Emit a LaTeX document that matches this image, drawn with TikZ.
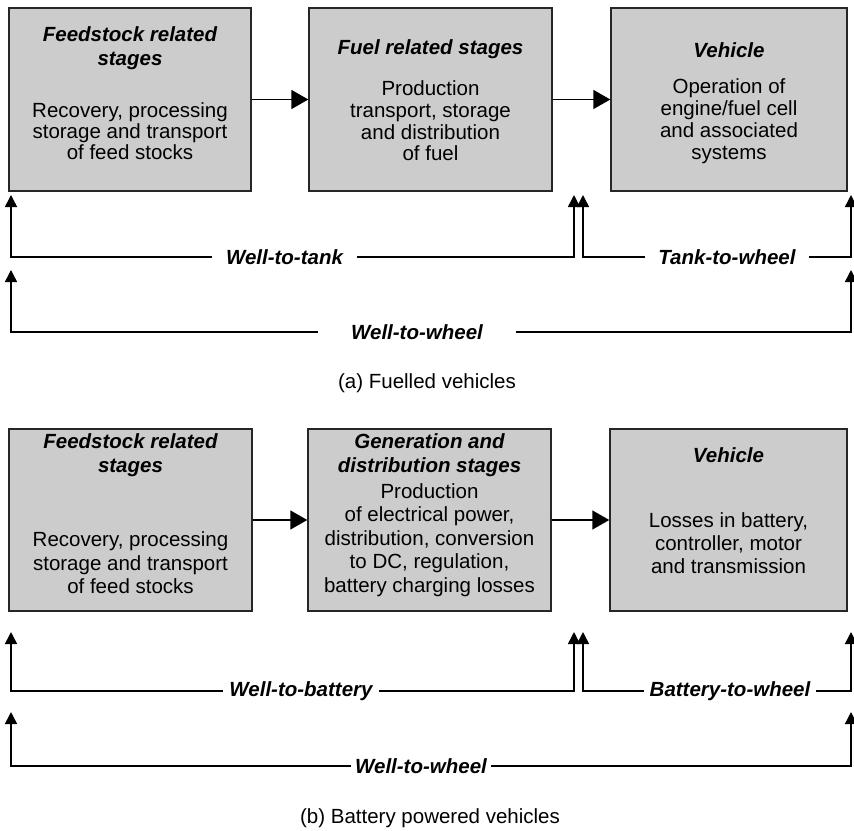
\documentclass[tikz,border=0pt]{standalone}
\usepackage{fontspec}
\setmainfont{Liberation Sans}
\usetikzlibrary{arrows.meta,shadows}
\definecolor{boxgray}{HTML}{CCCCCC}
\tikzset{
  stagebox/.style={draw=black!85, line width=1.4pt, fill=boxgray, inner sep=0pt, minimum height=#1,
    drop shadow={shadow xshift=1.2pt, shadow yshift=-1.2pt, opacity=0.45, fill=black!60}},
  stagebox/.default=183pt,
  ttl/.style={font=\fontsize{20.5}{24}\selectfont\bfseries\itshape, align=center, inner sep=0pt},
  bdy/.style={font=\fontsize{20.5}{#1}\selectfont, align=center, inner sep=0pt},
  bdy/.default=22,
  lbl/.style={font=\fontsize{20.5}{24}\selectfont\bfseries\itshape, inner ysep=0pt, inner xsep=#1},
  captext/.style={font=\fontsize{20.5}{24}\selectfont, inner sep=0pt},
  flowarrow/.style={line width=1.6pt, -{Triangle[length=17pt,width=19pt]}},
  spanarrow/.style={line width=1.5pt, -{Triangle[length=12pt,width=12pt]}},
}
\begin{document}
\begin{tikzpicture}[x=1pt,y=-1pt]
\useasboundingbox (0,0) rectangle (854,830);
% ---------- (a) ----------
\node[stagebox, minimum width=242pt] (a1) at (130,99.5) {};
\node[stagebox, minimum width=243pt] (a2) at (430.5,99.5) {};
\node[stagebox, minimum width=236pt] (a3) at (729,99.5) {};
\node[ttl] (a1t) at (130,48) {Feedstock related\\stages};
\node[bdy=21] (a1b) at (130,131) {Recovery, processing\\storage and transport\\of feed stocks};
\node[ttl] (a2t) at (430.5,49) {Fuel related stages};
\node[bdy=21.7] (a2b) at (430.5,121) {Production\\transport, storage\\and distribution\\of fuel};
\node[ttl] (a3t) at (729,50) {Vehicle};
\node[bdy=22] (a3b) at (729,121) {Operation of\\engine/fuel cell\\and associated\\systems};
\draw[flowarrow] (a1) -- (a2);
\draw[flowarrow] (a2) -- (a3);

\coordinate (pa1) at (11,195);
\coordinate (pa2) at (574,195);
\coordinate (pa3) at (583,195);
\coordinate (pa4) at (851,195);
\coordinate (pa5) at (11,270);
\coordinate (pa6) at (851,270);
\node[lbl=14pt] (wtt) at (284.5,257) {Well-to-tank};
\node[lbl=13.5pt] (ttw) at (727,257) {Tank-to-wheel};
\node[lbl=33pt] (wtwa) at (417,332) {Well-to-wheel};
\draw[spanarrow] (wtt.west) -| (pa1);
\draw[spanarrow] (wtt.east) -| (pa2);
\draw[spanarrow] (ttw.west) -| (pa3);
\draw[spanarrow] (ttw.east) -| (pa4);
\draw[spanarrow] (wtwa.west) -| (pa5);
\draw[spanarrow] (wtwa.east) -| (pa6);
\node[captext] (capa) at (427,383) {(a) Fuelled vehicles};

% ---------- (b) ----------
\node[stagebox=182pt, minimum width=243pt] (b1) at (130.5,520) {};
\node[stagebox=182pt, minimum width=243pt] (b2) at (429.5,520) {};
\node[stagebox=182pt, minimum width=237pt] (b3) at (728.5,520) {};
\node[ttl] (b1t) at (130.5,455) {Feedstock related\\stages};
\node[bdy=23.5] (b1b) at (130.5,563) {Recovery, processing\\storage and transport\\of feed stocks};
\node[ttl] (b2t) at (429.5,455) {Generation and\\distribution stages};
\node[bdy=23.5] (b2b) at (429.5,540) {Production\\of electrical power,\\distribution, conversion\\to DC, regulation,\\battery charging losses};
\node[ttl] (b3t) at (728.5,455) {Vehicle};
\node[bdy=23] (b3b) at (728.5,543) {Losses in battery,\\controller, motor\\and transmission};
\draw[flowarrow] (b1) -- (b2);
\draw[flowarrow] (b2) -- (b3);

\coordinate (pb1) at (11,632);
\coordinate (pb2) at (574,632);
\coordinate (pb3) at (583,632);
\coordinate (pb4) at (851,632);
\coordinate (pb5) at (11,712);
\coordinate (pb6) at (851,712);
\node[lbl=6.5pt] (wtb) at (301,691) {Well-to-battery};
\node[lbl=5.5pt] (btw) at (730,691) {Battery-to-wheel};
\node[lbl=4pt] (wtwb) at (421,766) {Well-to-wheel};
\draw[spanarrow] (wtb.west) -| (pb1);
\draw[spanarrow] (wtb.east) -| (pb2);
\draw[spanarrow] (btw.west) -| (pb3);
\draw[spanarrow] (btw.east) -| (pb4);
\draw[spanarrow] (wtwb.west) -| (pb5);
\draw[spanarrow] (wtwb.east) -| (pb6);
\node[captext] (capb) at (430,818) {(b) Battery powered vehicles};
\end{tikzpicture}
\end{document}
